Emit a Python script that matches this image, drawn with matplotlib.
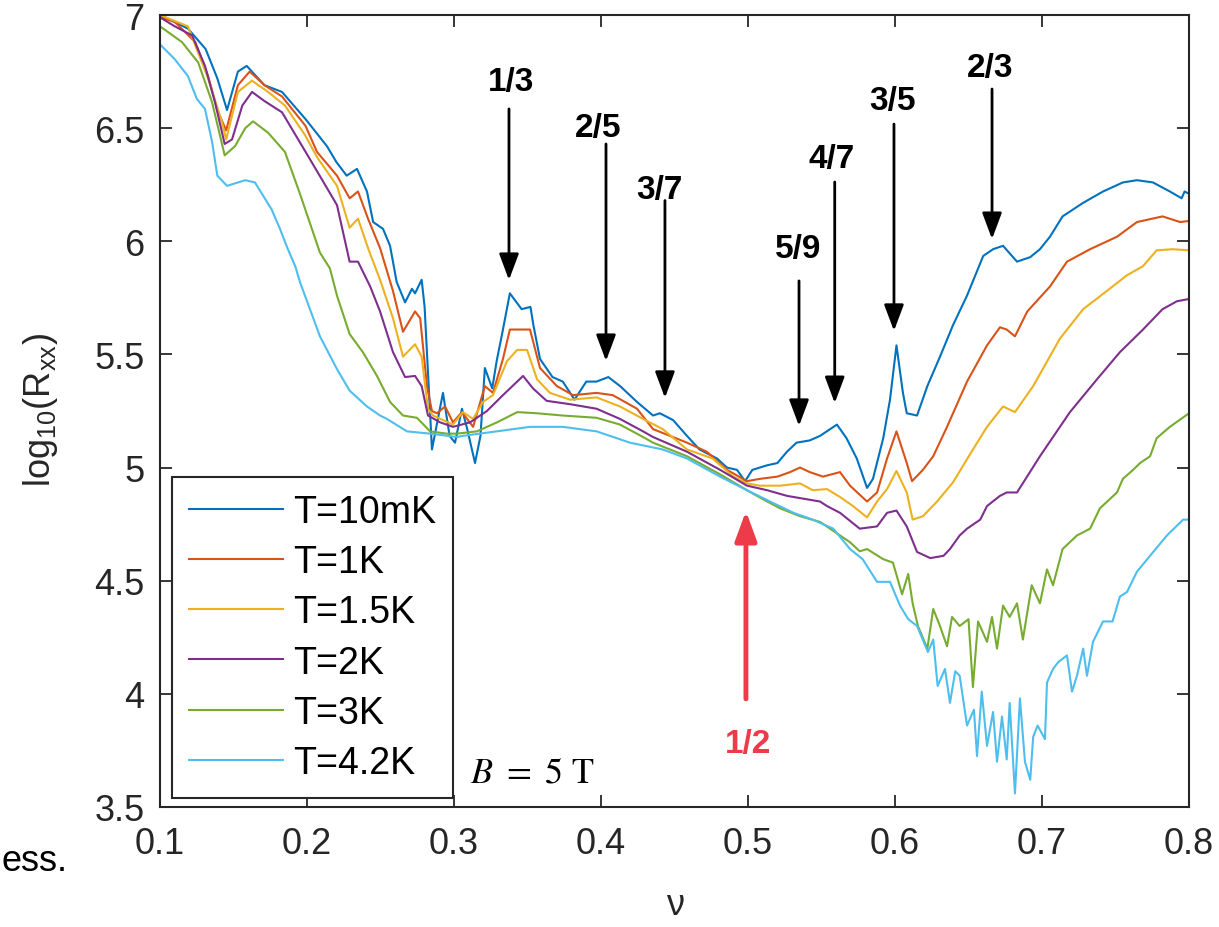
import numpy as np
import matplotlib
matplotlib.use("Agg")
import matplotlib.pyplot as plt
from matplotlib.ticker import FuncFormatter

plt.rcParams['font.family'] = ['Liberation Sans', 'DejaVu Sans']

t_10mk = np.array([
    (0.1, 7.0), (0.119, 6.94), (0.131, 6.85), (0.139, 6.72), (0.1456, 6.58), (0.153, 6.75),
    (0.159, 6.775), (0.171, 6.69), (0.183, 6.66), (0.199, 6.54), (0.2136, 6.42), (0.220, 6.35),
    (0.227, 6.29), (0.234, 6.32), (0.2408, 6.22), (0.245, 6.085), (0.2517, 6.055), (0.2565, 5.98),
    (0.261, 5.82), (0.2667, 5.73), (0.2714, 5.79), (0.2735, 5.77), (0.278, 5.83), (0.280, 5.71),
    (0.285, 5.08), (0.2925, 5.33), (0.297, 5.14), (0.3007, 5.11), (0.3054, 5.26), (0.309, 5.17),
    (0.3143, 5.02), (0.318, 5.14), (0.321, 5.44), (0.326, 5.35), (0.329, 5.47), (0.333, 5.60),
    (0.338, 5.77), (0.346, 5.70), (0.352, 5.71), (0.354, 5.63), (0.3585, 5.48), (0.367, 5.40),
    (0.374, 5.38), (0.377, 5.35), (0.382, 5.30), (0.390, 5.38), (0.397, 5.38), (0.405, 5.40),
    (0.413, 5.36), (0.4245, 5.29), (0.4354, 5.23), (0.44, 5.24), (0.449, 5.21), (0.4585, 5.14),
    (0.467, 5.08), (0.479, 5.04), (0.4857, 5.0), (0.4925, 4.99), (0.498, 4.94), (0.503, 4.99),
    (0.513, 5.01), (0.52, 5.02), (0.5265, 5.07), (0.533, 5.11), (0.542, 5.12), (0.549, 5.14),
    (0.5605, 5.19), (0.567, 5.13), (0.574, 5.04), (0.581, 4.91), (0.585, 4.95), (0.592, 5.13),
    (0.5966, 5.30), (0.601, 5.54), (0.6054, 5.33), (0.608, 5.24), (0.615, 5.23), (0.622, 5.36),
    (0.6306, 5.49), (0.6395, 5.63), (0.649, 5.76), (0.66, 5.935), (0.6667, 5.965), (0.6735, 5.98),
    (0.683, 5.91), (0.692, 5.93), (0.6986, 5.965), (0.7054, 6.02), (0.714, 6.11), (0.728, 6.17),
    (0.7415, 6.22), (0.755, 6.26), (0.7646, 6.27), (0.7755, 6.26), (0.787, 6.22), (0.795, 6.19),
    (0.797, 6.22), (0.8, 6.21)])

t_1k = np.array([
    (0.1, 6.99), (0.11, 6.97), (0.124, 6.88), (0.1327, 6.73), (0.139, 6.58), (0.145, 6.49),
    (0.153, 6.69), (0.161, 6.75), (0.171, 6.69), (0.183, 6.64), (0.199, 6.51), (0.2068, 6.395),
    (0.2204, 6.29), (0.229, 6.19), (0.2347, 6.22), (0.2415, 6.10), (0.2497, 5.97), (0.2585, 5.78),
    (0.2653, 5.60), (0.2735, 5.69), (0.277, 5.66), (0.2816, 5.36), (0.285, 5.25), (0.2884, 5.24),
    (0.2939, 5.27), (0.2993, 5.20), (0.3054, 5.245), (0.313, 5.18), (0.321, 5.36), (0.3265, 5.33),
    (0.3333, 5.48), (0.338, 5.61), (0.3517, 5.61), (0.3585, 5.44), (0.37, 5.36), (0.381, 5.32),
    (0.397, 5.33), (0.408, 5.32), (0.4245, 5.26), (0.4354, 5.17), (0.4585, 5.11), (0.472, 5.07),
    (0.4857, 4.99), (0.4993, 4.94), (0.508, 4.95), (0.52, 4.96), (0.5286, 4.98), (0.5354, 5.0),
    (0.542, 4.98), (0.551, 4.96), (0.5626, 4.98), (0.5694, 4.92), (0.581, 4.85), (0.5878, 4.89),
    (0.5946, 5.04), (0.601, 5.16), (0.608, 5.02), (0.6116, 4.94), (0.619, 4.99), (0.626, 5.05),
    (0.6354, 5.18), (0.649, 5.38), (0.6626, 5.54), (0.6714, 5.62), (0.676, 5.61), (0.6816, 5.58),
    (0.69, 5.69), (0.7054, 5.80), (0.717, 5.91), (0.7327, 5.965), (0.751, 6.02), (0.7646, 6.085),
    (0.782, 6.11), (0.794, 6.085), (0.8, 6.09)])

t_1p5k = np.array([
    (0.1, 7.0), (0.119, 6.95), (0.1327, 6.72), (0.142, 6.53), (0.145, 6.45), (0.153, 6.66),
    (0.1626, 6.71), (0.1735, 6.66), (0.185, 6.60), (0.1986, 6.47), (0.207, 6.37), (0.2204, 6.245),
    (0.229, 6.06), (0.2347, 6.10), (0.2415, 5.97), (0.2497, 5.83), (0.2585, 5.66), (0.2653, 5.49),
    (0.2735, 5.545), (0.278, 5.49), (0.2823, 5.26), (0.2857, 5.23), (0.2993, 5.19), (0.306, 5.245),
    (0.313, 5.215), (0.3197, 5.29), (0.3265, 5.32), (0.336, 5.47), (0.343, 5.52), (0.3497, 5.52),
    (0.3565, 5.39), (0.3653, 5.33), (0.379, 5.30), (0.397, 5.31), (0.4129, 5.27), (0.4286, 5.215),
    (0.442, 5.17), (0.4585, 5.08), (0.476, 5.04), (0.49, 4.96), (0.4993, 4.93), (0.508, 4.92),
    (0.5218, 4.92), (0.5354, 4.93), (0.544, 4.90), (0.5537, 4.905), (0.5626, 4.87), (0.5714, 4.83),
    (0.581, 4.78), (0.5878, 4.85), (0.5946, 4.905), (0.601, 4.985), (0.608, 4.89), (0.612, 4.77),
    (0.619, 4.785), (0.6286, 4.85), (0.6395, 4.935), (0.653, 5.08), (0.6626, 5.18), (0.6735, 5.27),
    (0.6816, 5.245), (0.694, 5.36), (0.7122, 5.57), (0.728, 5.70), (0.744, 5.78), (0.7578, 5.85),
    (0.7687, 5.89), (0.778, 5.96), (0.789, 5.965), (0.8, 5.96)])

t_2k = np.array([
    (0.1, 6.99), (0.11, 6.95), (0.1218, 6.91), (0.1306, 6.775), (0.1374, 6.615), (0.144, 6.43),
    (0.149, 6.45), (0.156, 6.60), (0.1626, 6.66), (0.171, 6.62), (0.183, 6.57), (0.1986, 6.40),
    (0.2068, 6.31), (0.2204, 6.16), (0.229, 5.91), (0.2347, 5.91), (0.243, 5.80), (0.2497, 5.69),
    (0.2585, 5.51), (0.2667, 5.40), (0.2735, 5.405), (0.278, 5.36), (0.2823, 5.23), (0.2905, 5.20),
    (0.2993, 5.18), (0.311, 5.20), (0.3224, 5.25), (0.3333, 5.32), (0.347, 5.405), (0.3537, 5.35),
    (0.363, 5.295), (0.379, 5.28), (0.397, 5.26), (0.4129, 5.215), (0.4286, 5.16), (0.4354, 5.135),
    (0.4585, 5.07), (0.481, 4.99), (0.4993, 4.92), (0.513, 4.90), (0.5265, 4.875), (0.540, 4.86),
    (0.549, 4.85), (0.5537, 4.83), (0.5626, 4.80), (0.576, 4.73), (0.5878, 4.74), (0.5946, 4.80),
    (0.601, 4.81), (0.608, 4.74), (0.615, 4.627), (0.624, 4.60), (0.633, 4.61), (0.6374, 4.64),
    (0.644, 4.70), (0.649, 4.73), (0.658, 4.77), (0.6626, 4.83), (0.6714, 4.875), (0.676, 4.89),
    (0.683, 4.89), (0.6986, 5.05), (0.719, 5.245), (0.7374, 5.39), (0.753, 5.51), (0.7687, 5.61),
    (0.782, 5.70), (0.7918, 5.735), (0.8, 5.745)])

t_3k = np.array([
    (0.1, 6.95), (0.115, 6.88), (0.126, 6.79), (0.1354, 6.615), (0.144, 6.38), (0.151, 6.42),
    (0.158, 6.50), (0.1633, 6.53), (0.1735, 6.48), (0.185, 6.395), (0.1952, 6.21), (0.2088, 5.95),
    (0.2156, 5.88), (0.2204, 5.76), (0.229, 5.59), (0.238, 5.51), (0.2476, 5.405), (0.2565, 5.29),
    (0.2653, 5.23), (0.2748, 5.22), (0.2837, 5.16), (0.295, 5.15), (0.302, 5.15), (0.3156, 5.16),
    (0.3293, 5.20), (0.343, 5.245), (0.3565, 5.24), (0.374, 5.23), (0.397, 5.22), (0.4129, 5.19),
    (0.4286, 5.135), (0.4354, 5.11), (0.4585, 5.05), (0.481, 4.97), (0.4993, 4.90), (0.5102, 4.86),
    (0.5218, 4.82), (0.5354, 4.785), (0.549, 4.76), (0.5626, 4.70), (0.5694, 4.67), (0.576, 4.63),
    (0.581, 4.64), (0.592, 4.595), (0.5986, 4.58), (0.6048, 4.44), (0.609, 4.53), (0.612, 4.40),
    (0.6156, 4.30), (0.622, 4.20), (0.626, 4.375), (0.6306, 4.30), (0.6354, 4.21), (0.6388, 4.34),
    (0.644, 4.30), (0.65, 4.33), (0.653, 4.03), (0.6565, 4.32), (0.6626, 4.23), (0.666, 4.34),
    (0.6694, 4.20), (0.6735, 4.39), (0.678, 4.34), (0.683, 4.40), (0.687, 4.24), (0.693, 4.48),
    (0.6986, 4.40), (0.7034, 4.55), (0.7075, 4.48), (0.714, 4.64), (0.7238, 4.70), (0.7327, 4.73),
    (0.7394, 4.82), (0.751, 4.89), (0.755, 4.95), (0.762, 4.99), (0.7667, 5.02), (0.7735, 5.05),
    (0.778, 5.13), (0.787, 5.18), (0.8, 5.24)])

t_4p2k = np.array([
    (0.1, 6.87), (0.11, 6.805), (0.119, 6.73), (0.125, 6.63), (0.1306, 6.585), (0.1354, 6.44),
    (0.139, 6.29), (0.1456, 6.245), (0.158, 6.27), (0.1646, 6.26), (0.176, 6.14), (0.1816, 6.055),
    (0.187, 5.965), (0.192, 5.89), (0.1952, 5.82), (0.2088, 5.58), (0.2204, 5.435), (0.229, 5.34),
    (0.2408, 5.27), (0.2497, 5.23), (0.2544, 5.215), (0.268, 5.16), (0.2837, 5.15), (0.302, 5.135),
    (0.306, 5.14), (0.329, 5.16), (0.3517, 5.18), (0.374, 5.18), (0.397, 5.16), (0.4197, 5.11),
    (0.442, 5.08), (0.4585, 5.04), (0.481, 4.96), (0.4993, 4.90), (0.515, 4.85), (0.531, 4.80),
    (0.544, 4.77), (0.558, 4.73), (0.5694, 4.64), (0.578, 4.595), (0.5878, 4.495), (0.5966, 4.495),
    (0.6034, 4.39), (0.609, 4.33), (0.615, 4.30), (0.6224, 4.185), (0.626, 4.24), (0.629, 4.035),
    (0.634, 4.11), (0.6374, 3.96), (0.641, 4.10), (0.644, 4.08), (0.649, 3.86), (0.6537, 3.93),
    (0.6558, 3.725), (0.659, 4.01), (0.6626, 3.77), (0.6667, 3.92), (0.6694, 3.70), (0.6728, 3.90),
    (0.676, 3.71), (0.678, 3.96), (0.6816, 3.56), (0.685, 3.98), (0.6884, 3.70), (0.692, 3.62),
    (0.694, 3.81), (0.697, 3.86), (0.702, 3.80), (0.7034, 4.05), (0.7075, 4.11), (0.711, 4.14),
    (0.717, 4.17), (0.7204, 4.01), (0.7238, 4.08), (0.728, 4.20), (0.7306, 4.08), (0.7347, 4.23),
    (0.7415, 4.32), (0.748, 4.32), (0.753, 4.43), (0.7578, 4.45), (0.7646, 4.54), (0.7735, 4.61),
    (0.785, 4.70), (0.796, 4.77), (0.8, 4.77)])

series = [t_10mk, t_1k, t_1p5k, t_2k, t_3k, t_4p2k]
labels = ['T=10mK', 'T=1K', 'T=1.5K', 'T=2K', 'T=3K', 'T=4.2K']
colors = ['#0072BD', '#D95319', '#EDB120', '#7E2F8E', '#77AC30', '#4DBEEE']

# fraction markers: label, arrow x, label y, arrow tail y, arrow tip y
fractions = ['1/3', '2/5', '3/7', '5/9', '4/7', '3/5', '2/3']
frac_x = [0.3374, 0.4034, 0.4435, 0.5347, 0.559, 0.5993, 0.666]
frac_label_x = [0.3388, 0.398, 0.440, 0.534, 0.557, 0.598, 0.6646]
frac_label_y = [6.708, 6.505, 6.231, 5.966, 6.364, 6.62, 6.77]
frac_tail_y = [6.585, 6.43, 6.18, 5.825, 6.262, 6.518, 6.673]
frac_tip_y = [5.829, 5.471, 5.308, 5.184, 5.285, 5.604, 6.01]

dark = '#262626'
red = '#EE3B4A'

fig = plt.figure(figsize=(12.19, 9.28), dpi=100)
ax = fig.add_axes([160 / 1219, 1 - 808 / 928, 1029 / 1219, 792 / 928])

for arr, lab, c in zip(series, labels, colors):
    ax.plot(arr[:, 0], arr[:, 1], color=c, lw=1.5, label=lab)

ax.set_xlim(0.1, 0.8)
ax.set_ylim(3.5, 7)
ax.set_xticks(np.arange(0.1, 0.81, 0.1))
ax.set_yticks(np.arange(3.5, 7.01, 0.5))
ax.xaxis.set_major_formatter(FuncFormatter(lambda v, p: f'{v:g}'))
ax.yaxis.set_major_formatter(FuncFormatter(lambda v, p: f'{v:g}'))
ax.tick_params(direction='in', length=8.5, width=1.3, top=True, right=True,
               labelsize=26, colors=dark)
ax.tick_params(axis='x', pad=14)
ax.tick_params(axis='y', pad=11)
for sp in ax.spines.values():
    sp.set_color(dark)
    sp.set_linewidth(1.5)

ax.set_xlabel('ν', fontsize=26, color=dark)
ax.xaxis.label.set_va('center')
ax.xaxis.set_label_coords(0.5005, -0.1225)
ax.set_ylabel(r'$\mathregular{log_{10}(R_{xx})}$', fontsize=26, color=dark)
ax.yaxis.label.set_va('center')
ax.yaxis.set_label_coords(-0.1166, 0.5025)

for lab, x, lx, ly, ty, py in zip(fractions, frac_x, frac_label_x, frac_label_y,
                                   frac_tail_y, frac_tip_y):
    ax.text(lx, ly, lab, fontsize=24, fontweight='bold', ha='center', va='center')
    ax.annotate('', xy=(x, py), xytext=(x, ty),
                arrowprops=dict(arrowstyle='-|>,head_length=0.8,head_width=0.3',
                                color='k', lw=2, mutation_scale=20,
                                shrinkA=0, shrinkB=0))

ax.annotate('', xy=(0.4986, 4.808), xytext=(0.4986, 3.978),
            arrowprops=dict(arrowstyle='-|>,head_length=0.9,head_width=0.33',
                            color=red, lw=3.5, mutation_scale=20,
                            shrinkA=0, shrinkB=0))
ax.text(0.5, 3.779, '1/2', fontsize=24, fontweight='bold', color=red,
        ha='center', va='center')

ax.text(0.3109, 3.655, r'$B\ =\ 5\ \mathrm{T}$', fontsize=26, math_fontfamily='stix',
        ha='left', va='center')

leg = ax.legend(loc='lower left', bbox_to_anchor=(0.0117, 0.0114), borderaxespad=0,
                fontsize=27, frameon=True, fancybox=False, handlelength=2.5,
                handletextpad=0.27, labelspacing=0.38, borderpad=0.45)
leg.get_frame().set_edgecolor(dark)
leg.get_frame().set_linewidth(1.5)
leg.get_frame().set_alpha(1)

fig.text(0.001, 1 - 862 / 928, 'ess.', fontsize=26, ha='left', va='center')

fig.savefig('out.png', dpi=100)
